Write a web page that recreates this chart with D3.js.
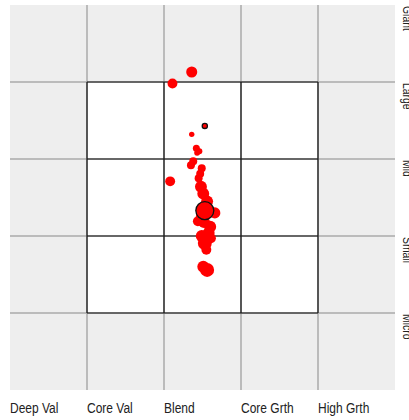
<!DOCTYPE html>
<html>
<head>
<meta charset="utf-8">
<script src="https://cdn.jsdelivr.net/npm/d3@7"></script>
<style>
  html, body { margin: 0; padding: 0; background: #fff; }
  svg { display: block; }
  text { font-family: "Liberation Sans Narrow", "Liberation Sans", Arial, sans-serif; fill: #222; }
</style>
</head>
<body>
<svg id="chart" width="409" height="420"></svg>
<script>
// style box categories
var styleLabels = ["Deep Val", "Core Val", "Blend", "Core Grth", "High Grth"];
var sizeLabels = ["Giant", "Large", "Mid", "Small", "Micro"];

// holdings: style score (0-5), size score (0-5, micro at bottom), weight
var holdStyle = [2.36, 2.11, 2.36, 2.42, 2.46, 2.43, 2.38, 2.35, 2.49, 2.47, 2.45, 2.08, 2.48, 2.51,
                 2.56, 2.66, 2.49, 2.44, 2.52, 2.60, 2.58, 2.49, 2.61, 2.53, 2.55, 2.56, 2.51];
var holdSize  = [4.13, 3.98, 3.32, 3.14, 3.10, 3.08, 2.97, 2.92, 2.88, 2.81, 2.75, 2.71, 2.64, 2.55,
                 2.45, 2.30, 2.25, 2.19, 2.18, 2.12, 2.04, 2.00, 1.97, 1.91, 1.82, 1.56, 1.60];
var holdWeight = [2.5, 2.0, 0.6, 1.0, 0.7, 0.7, 1.3, 1.3, 1.3, 1.3, 1.3, 2.0, 2.9, 2.9,
                  2.9, 2.5, 2.9, 2.0, 2.9, 2.9, 2.9, 2.9, 2.0, 4.0, 2.0, 4.0, 2.9];

// outlined markers: [style, size, weight]
var benchmarkPt = [2.53, 3.43, 0.55];
var centroidPt = [2.53, 2.33, 6.6];

function draw() {
    var svg = d3.select("#chart");

    var x = d3.scaleLinear().domain([0, 5]).range([10, 395]);
    var y = d3.scaleLinear().domain([0, 5]).range([390, 5]);
    var r = d3.scaleSqrt().domain([0, 1]).range([0, 3.5]);

    var ticks = d3.range(0, 6);

    // grey outer area
    svg.append("rect")
        .attr("x", x(0)).attr("y", y(5))
        .attr("width", x(5) - x(0)).attr("height", y(0) - y(5))
        .attr("fill", "#eeeeee");

    // white 3x3 core
    svg.append("rect")
        .attr("x", x(1)).attr("y", y(4))
        .attr("width", x(4) - x(1)).attr("height", y(1) - y(4))
        .attr("fill", "#fff");

    // grey grid lines
    svg.selectAll(".vgrid").data(ticks.slice(1, 5)).enter()
        .append("line")
        .attr("x1", x).attr("x2", x)
        .attr("y1", y(5)).attr("y2", y(0))
        .attr("stroke", "#aaa").attr("stroke-width", 1.5);
    svg.selectAll(".hgrid").data(ticks.slice(1, 5)).enter()
        .append("line")
        .attr("y1", y).attr("y2", y)
        .attr("x1", x(0)).attr("x2", x(5))
        .attr("stroke", "#aaa").attr("stroke-width", 1.5);

    // black core grid
    svg.selectAll(".vcore").data(ticks.slice(1, 5)).enter()
        .append("line")
        .attr("x1", x).attr("x2", x)
        .attr("y1", y(4)).attr("y2", y(1))
        .attr("stroke", "#111").attr("stroke-width", 1.2);
    svg.selectAll(".hcore").data(ticks.slice(1, 5)).enter()
        .append("line")
        .attr("y1", y).attr("y2", y)
        .attr("x1", x(1)).attr("x2", x(4))
        .attr("stroke", "#111").attr("stroke-width", 1.2);

    // bottom labels (condensed)
    svg.selectAll(".xlab").data(styleLabels).enter()
        .append("text")
        .attr("transform", function(d, i) {
            return "translate(" + x(i) + ",413) scale(0.8,1)";
        })
        .style("font-size", "15px")
        .text(function(d) { return d; });

    // right labels, rotated and clipped by the edge
    svg.selectAll(".ylab").data(sizeLabels).enter()
        .append("text")
        .attr("transform", function(d, i) {
            return "translate(403," + (y(5 - i) + 1) + ") rotate(90) scale(0.8,1)";
        })
        .style("font-size", "13px")
        .text(function(d) { return d; });

    // holdings
    var pts = holdStyle.map(function(s, i) {
        return { style: s, size: holdSize[i], w: holdWeight[i] };
    });
    svg.selectAll(".hold").data(pts).enter()
        .append("circle")
        .attr("cx", function(d) { return x(d.style); })
        .attr("cy", function(d) { return y(d.size); })
        .attr("r", function(d) { return r(d.w); })
        .attr("fill", "#ff0000");

    // outlined markers
    [benchmarkPt, centroidPt].forEach(function(p) {
        svg.append("circle")
            .attr("cx", x(p[0]))
            .attr("cy", y(p[1]))
            .attr("r", r(p[2]))
            .attr("fill", "#ff0000")
            .attr("stroke", "#111")
            .attr("stroke-width", 1.3);
    });
}

draw();
</script>
</body>
</html>
